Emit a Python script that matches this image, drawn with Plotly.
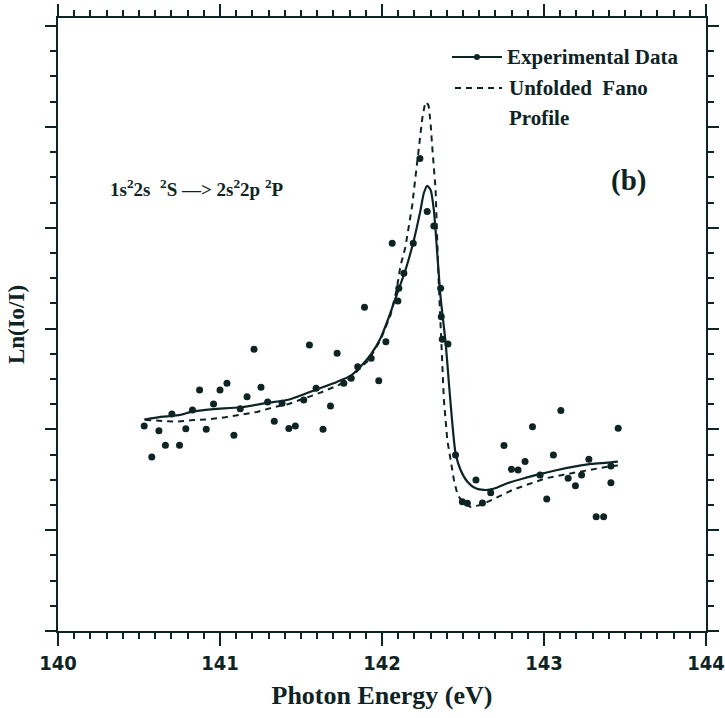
import plotly.graph_objects as go

# Experimental data points (photon energy in eV, Ln(Io/I) in arbitrary units)
exp_x = [140.532, 140.579, 140.623, 140.663, 140.703, 140.750, 140.789, 140.830, 140.874, 140.915,
         140.960, 141.000, 141.043, 141.086, 141.125, 141.167, 141.210, 141.253, 141.294, 141.335,
         141.383, 141.425, 141.465, 141.517, 141.552, 141.593, 141.636, 141.682, 141.723, 141.764,
         141.810, 141.850, 141.892, 141.933, 141.980, 142.024, 142.063, 142.098, 142.104, 142.135,
         142.193, 142.234, 142.279, 142.320, 142.362, 142.366, 142.372, 142.407, 142.454, 142.496,
         142.527, 142.580, 142.620, 142.671, 142.753, 142.799, 142.840, 142.883, 142.929, 142.976,
         143.017, 143.058, 143.104, 143.149, 143.194, 143.232, 143.277, 143.322, 143.368, 143.413,
         143.413, 143.458]
exp_y = [2.034, 1.726, 1.987, 1.842, 2.153, 1.842, 2.007, 2.192, 2.391, 2.001,
         2.252, 2.391, 2.457, 1.941, 2.205, 2.324, 2.795, 2.418, 2.272, 2.080,
         2.259, 2.009, 2.034, 2.292, 2.837, 2.408, 2.001, 2.232, 2.755, 2.457,
         2.507, 2.622, 3.211, 2.705, 2.483, 2.870, 3.846, 3.274, 3.400, 3.549,
         3.846, 4.686, 4.160, 4.018, 3.400, 3.118, 2.894, 2.847, 1.746, 1.283,
         1.267, 1.498, 1.270, 1.372, 1.840, 1.604, 1.597, 1.680, 2.027, 1.548,
         1.310, 1.746, 2.186, 1.515, 1.441, 1.548, 1.703, 1.134, 1.134, 1.637,
         1.471, 2.011]

# Fitted curve through the experimental data (solid line)
fit_x = [140.532, 140.649, 140.754, 140.828, 140.958, 141.125, 141.292, 141.434, 141.589, 141.725,
         141.805, 141.867, 141.929, 141.991, 142.040, 142.094, 142.145, 142.197, 142.238, 142.258,
         142.279, 142.300, 142.320, 142.341, 142.362, 142.393, 142.413, 142.434, 142.454, 142.485,
         142.527, 142.578, 142.629, 142.671, 142.712, 142.774, 142.877, 142.980, 143.083, 143.186,
         143.289, 143.392, 143.456]
fit_y = [2.098, 2.126, 2.143, 2.176, 2.200, 2.219, 2.262, 2.299, 2.391, 2.473,
         2.530, 2.622, 2.738, 2.904, 3.102, 3.348, 3.581, 3.879, 4.177, 4.342,
         4.415, 4.375, 4.177, 3.747, 3.304, 2.854, 2.457, 2.061, 1.763, 1.597,
         1.481, 1.416, 1.399, 1.404, 1.424, 1.465, 1.515, 1.558, 1.597, 1.630,
         1.657, 1.670, 1.680]

# Unfolded Fano profile (dashed line)
fano_x = [140.538, 140.734, 140.836, 140.929, 141.032, 141.125, 141.228, 141.331, 141.424, 141.620,
          141.733, 141.795, 141.918, 141.991, 142.053, 142.090, 142.114, 142.145, 142.187, 142.207,
          142.228, 142.249, 142.263, 142.275, 142.288, 142.300, 142.310, 142.320, 142.331, 142.348,
          142.372, 142.382, 142.403, 142.424, 142.444, 142.465, 142.498, 142.547, 142.609, 142.671,
          142.712, 142.805, 142.908, 143.011, 143.114, 143.217, 143.308, 143.392, 143.456]
fano_y = [2.093, 2.076, 2.093, 2.100, 2.120, 2.143, 2.173, 2.219, 2.252, 2.364,
          2.440, 2.497, 2.688, 2.887, 3.135, 3.383, 3.621, 3.812, 4.226, 4.507,
          4.821, 5.089, 5.208, 5.248, 5.208, 5.037, 4.805, 4.573, 4.375, 3.532,
          2.688, 2.292, 1.895, 1.677, 1.498, 1.359, 1.270, 1.230, 1.250, 1.295,
          1.329, 1.399, 1.458, 1.515, 1.548, 1.580, 1.607, 1.630, 1.642]

x_ticks = [140, 141, 142, 143, 144]
x_tick_labels = ["140", "141", "142", "143", "144"]
x_range = [140, 144]
y_range = [0, 6.08]

INK = "#0e2424"
SERIF = "Liberation Serif, Times New Roman, serif"
NARROW = "Liberation Sans Narrow, DejaVu Sans Condensed, Arial Narrow, sans-serif"

fig = go.Figure()
fig.add_trace(go.Scatter(x=fano_x, y=fano_y, mode="lines",
                         line=dict(color=INK, width=2, dash="6px,5px"),
                         showlegend=False, hoverinfo="skip"))
fig.add_trace(go.Scatter(x=fit_x, y=fit_y, mode="lines",
                         line=dict(color=INK, width=2.2, shape="spline", smoothing=0.6),
                         showlegend=False))
fig.add_trace(go.Scatter(x=exp_x, y=exp_y, mode="markers",
                         marker=dict(color=INK, size=7),
                         showlegend=False))
# invisible carriers so the top/right tick axes are drawn
fig.add_trace(go.Scatter(x=fit_x, y=fit_y, xaxis="x2", yaxis="y2", mode="lines",
                         line=dict(width=0), opacity=0, showlegend=False, hoverinfo="skip"))
fig.add_trace(go.Scatter(x=fit_x, y=fit_y, xaxis="x3", yaxis="y", mode="lines",
                         line=dict(width=0), opacity=0, showlegend=False, hoverinfo="skip"))

# Manual legend (paper coordinates)
def px_x(p):
    return (p - 58) / 648.0

def px_y(p):
    return 1 - (p - 18) / 613.0

shapes = [
    dict(type="line", xref="paper", yref="paper", x0=px_x(452), x1=px_x(502),
         y0=px_y(57), y1=px_y(57), line=dict(color=INK, width=2)),
    dict(type="circle", xref="paper", yref="paper", x0=px_x(474), x1=px_x(480),
         y0=px_y(54), y1=px_y(60), fillcolor=INK, line=dict(color=INK, width=0)),
    dict(type="line", xref="paper", yref="paper", x0=px_x(455), x1=px_x(502),
         y0=px_y(88), y1=px_y(88), line=dict(color=INK, width=2, dash="6px,5px")),
]

LEG_FONT = dict(family=SERIF, size=21, color=INK, weight="bold")
annotations = [
    dict(text="Experimental Data", x=px_x(505), y=px_y(57), xref="paper", yref="paper",
         xanchor="left", yanchor="middle", showarrow=False, font=LEG_FONT),
    dict(text="Unfolded  Fano", x=px_x(507), y=px_y(88), xref="paper", yref="paper",
         xanchor="left", yanchor="middle", showarrow=False, font=LEG_FONT),
    dict(text="Profile", x=px_x(507), y=px_y(118), xref="paper", yref="paper",
         xanchor="left", yanchor="middle", showarrow=False, font=LEG_FONT),
    dict(text="1s<sup>2</sup>2s  <sup>2</sup>S —> 2s<sup>2</sup>2p <sup>2</sup>P",
         x=px_x(197), y=px_y(188), xref="paper", yref="paper",
         xanchor="center", yanchor="middle", showarrow=False,
         font=dict(family=SERIF, size=19, color=INK, weight="bold")),
    dict(text="(b)", x=px_x(628), y=px_y(180), xref="paper", yref="paper",
         xanchor="center", yanchor="middle", showarrow=False,
         font=dict(family=SERIF, size=29, color=INK, weight="bold")),
]

common = dict(showgrid=False, zeroline=False, showline=True, linewidth=2,
              linecolor=INK, automargin=False)

fig.update_layout(
    width=725, height=718,
    margin=dict(l=58, r=19, t=18, b=87),
    paper_bgcolor="white", plot_bgcolor="white",
    shapes=shapes, annotations=annotations,
    showlegend=False,
    xaxis=dict(
        range=x_range, tickvals=x_ticks, ticktext=x_tick_labels,
        ticklabeloverflow="allow",
        ticks="outside", ticklen=13, tickwidth=2, tickcolor=INK,
        minor=dict(dtick=0.1, ticks="outside", ticklen=6, tickwidth=1.5, tickcolor=INK),
        tickfont=dict(family=NARROW, size=20, color=INK, weight="bold"),
        title=dict(text="Photon Energy (eV)", standoff=12,
                   font=dict(family=SERIF, size=26, color=INK, weight="bold")),
        **common,
    ),
    # top axis: major ticks
    xaxis2=dict(
        range=x_range, overlaying="x", side="top", tickmode="linear",
        tick0=x_ticks[0], dtick=1, showticklabels=False,
        ticks="outside", ticklen=12, tickwidth=2, tickcolor=INK,
        **common,
    ),
    # top axis: minor ticks (drawn as a second overlay axis)
    xaxis3=dict(
        range=x_range, overlaying="x", side="top", tickmode="linear",
        tick0=x_ticks[0], dtick=0.1, showticklabels=False,
        ticks="outside", ticklen=6, tickwidth=1.5, tickcolor=INK,
        **common,
    ),
    yaxis=dict(
        range=y_range, dtick=1, tick0=0, showticklabels=False,
        ticks="outside", ticklen=11, tickwidth=2, tickcolor=INK,
        minor=dict(dtick=0.25, ticks="outside", ticklen=6, tickwidth=1.5, tickcolor=INK),
        title=dict(text="Ln(Io/I)", standoff=14,
                   font=dict(family=SERIF, size=23, color=INK, weight="bold")),
        **common,
    ),
    yaxis2=dict(
        range=y_range, overlaying="y", side="right", dtick=1, tick0=0,
        showticklabels=False,
        ticks="outside", ticklen=11, tickwidth=2, tickcolor=INK,
        minor=dict(dtick=0.25, ticks="outside", ticklen=6, tickwidth=1.5, tickcolor=INK),
        **common,
    ),
)

fig.write_html("out.html")
